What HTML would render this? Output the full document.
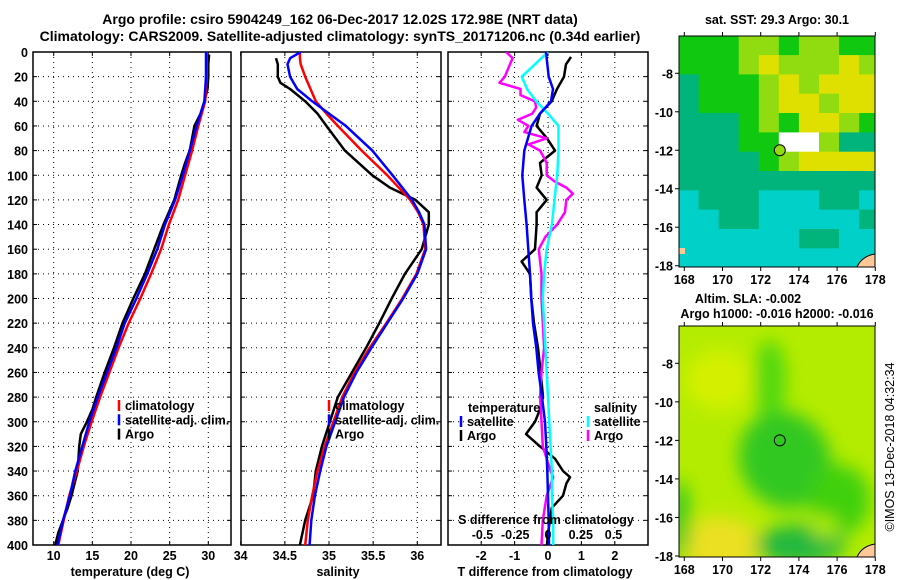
<!DOCTYPE html>
<html><head><meta charset="utf-8"><style>
html,body{margin:0;padding:0;background:#fff;}
svg{display:block;font-family:"Liberation Sans",sans-serif;}
.b{font-weight:bold;font-size:12.5px;fill:#000;}
.t{font-weight:bold;font-size:14px;fill:#000;}
</style></head><body>
<svg id="c" width="900" height="580" viewBox="0 0 900 580" xmlns="http://www.w3.org/2000/svg">
<defs>
<clipPath id="cp1"><rect x="33" y="52" width="198" height="493"/></clipPath>
<clipPath id="cp2"><rect x="241" y="52" width="200" height="493"/></clipPath>
<clipPath id="cp3"><rect x="448" y="52" width="200" height="493"/></clipPath>
<clipPath id="cm1"><rect x="679" y="36" width="196" height="231"/></clipPath>
<clipPath id="cm2"><rect x="679" y="326" width="196" height="231"/></clipPath>
<filter id="bl" x="-20%" y="-20%" width="140%" height="140%"><feGaussianBlur stdDeviation="9"/></filter>
</defs>
<text class="t" x="340" y="24" text-anchor="middle">Argo profile: csiro 5904249_162 06-Dec-2017 12.02S 172.98E (NRT data)</text>
<text class="t" x="340" y="41" text-anchor="middle">Climatology: CARS2009. Satellite-adjusted climatology: synTS_20171206.nc (0.34d earlier)</text>
<g id="g"></g>
</svg>
<script>
// ---- data ----
const depthT = [0,20,40,60,80,100,120,140,160,180,200,220,240,260,280,300,320,340,360,380,400];
const tClim = [29.8,29.8,29.6,28.7,27.9,27.0,26.1,24.9,23.9,22.6,21.2,19.7,18.4,17.2,16.0,14.9,13.9,13.0,12.0,11.3,10.6];
const tSat  = [29.7,29.7,29.5,28.5,27.6,26.7,25.7,24.4,23.4,22.1,20.7,19.2,18.1,16.9,15.7,14.6,13.7,12.8,12.1,11.2,10.5];
const depthTA = [2,10,20,30,40,50,60,70,80,90,100,120,140,160,180,200,220,240,260,280,290,300,310,320,340,360,370,380,390,400];
const tArgo = [30.1,30.0,30.0,29.9,29.5,29.0,28.2,27.9,27.6,27.0,26.5,25.6,24.2,23.0,21.8,20.3,18.9,17.8,16.6,15.5,15.0,14.3,13.5,13.3,13.1,12.3,11.8,11.2,10.6,10.2];
const depthS = [0,5,10,20,30,40,50,60,80,100,120,130,140,160,180,200,220,240,260,280,300,320,340,360,380,400];
const sClim = [34.67,34.67,34.68,34.73,34.79,34.85,34.97,35.10,35.37,35.66,35.92,36.01,36.07,36.09,35.99,35.83,35.65,35.46,35.29,35.15,35.05,34.95,34.87,34.81,34.76,34.73];
const sSat  = [34.68,34.56,34.53,34.56,34.64,34.81,35.00,35.19,35.49,35.72,35.94,36.02,36.08,36.10,36.00,35.84,35.66,35.48,35.31,35.17,35.07,34.97,34.90,34.84,34.80,34.78];
const depthSA = [5,10,20,25,30,40,50,60,80,100,110,120,130,140,160,180,200,220,240,260,280,300,320,340,360,380,400];
const sArgo = [34.40,34.42,34.42,34.45,34.56,34.73,34.87,34.97,35.18,35.49,35.69,35.98,36.13,36.13,36.05,35.86,35.71,35.57,35.42,35.26,35.10,35.01,34.92,34.85,34.82,34.73,34.67];
const depthD = [0,20,30,40,50,60,80,100,120,140,160,180,200,220,240,260,280,300,320,340,360,380,400];
const dtSat = [-0.06,0.02,0.15,0.09,-0.24,-0.49,-0.71,-0.77,-0.71,-0.64,-0.59,-0.54,-0.50,-0.45,-0.35,-0.28,-0.18,-0.09,-0.05,-0.02,0.0,0.02,0.03];
const dsSat = [0.0,-0.20,-0.16,-0.09,0.0,0.08,0.08,0.07,0.05,0.03,-0.01,-0.03,-0.04,-0.03,-0.02,-0.01,0.0,0.01,0.02,0.03,0.03,0.04,0.04];
const depthDA = [4,10,20,30,40,50,60,70,80,90,100,110,120,130,140,160,170,180,200,220,240,260,280,290,300,310,320,330,340,345,350,360,370,380,390,400];
const dtArgo = [0.69,0.54,0.48,0.27,0.11,-0.24,-0.34,-0.03,0.21,-0.24,-0.19,-0.34,-0.04,-0.34,-0.34,-0.39,-0.79,-0.54,-0.50,-0.42,-0.30,-0.22,-0.15,-0.24,-0.39,-0.66,-0.24,0.21,0.45,0.66,0.55,0.45,0.11,0.06,0.0,-0.03];
const depthDSA = [0,5,10,20,25,30,35,40,45,50,55,60,65,70,75,80,90,100,105,110,115,120,130,140,150,160,170,180,200,220,240,260,280,300,320,340,345,360,380,400];
const dsArgo = [-0.32,-0.27,-0.29,-0.33,-0.37,-0.21,-0.21,-0.10,-0.09,-0.12,-0.23,-0.15,-0.18,-0.01,-0.15,-0.06,-0.01,-0.01,0.05,0.14,0.19,0.14,0.13,0.07,-0.02,-0.07,-0.06,-0.05,-0.05,-0.04,-0.03,-0.05,-0.06,-0.05,-0.04,0.02,0.04,-0.01,-0.04,-0.05];
const depthTicks = [0,20,40,60,80,100,120,140,160,180,200,220,240,260,280,300,320,340,360,380,400];
const tTicks = [10,15,20,25,30];
const sTicks = [34,34.5,35,35.5,36];
const dtTicks = [-2,-1,0,1,2];
const dsTicks = [-0.5,-0.25,0,0.25,0.5];
const lonTicks = [168,170,172,174,176,178];
const latTicks = [-8,-10,-12,-14,-16,-18];
const sstRows = ["GGGLLGLLGG","GGGLYLLLYL","TGGGLYLYYY","TGGGLYYLYY","TTTGLGYYLG","TTTGGWWLTT","TTTTGLYYYY","TTTTTTTTTT","CTTTCCCTTC","CCTTCCCCCT","CCCCCCTTCC","CCCCCCCCCC"];
// ---- scales ----
const yD = d => 52 + d*1.2325;
const xT = t => 53.7 + (t-10)*7.73;
const xS = s => 240.7 + (s-34)*88.3;
const xDT = v => 548 + v*33.4;
const xDS = v => 548 + v*131;
const mx1 = lon => 684.3 + (lon-168)*19.1;
const my1 = lat => 73.3 + (-8-lat)*19.24;
const my2 = lat => 363.3 + (-8-lat)*19.27;
const NS='http://www.w3.org/2000/svg';
const G=document.getElementById('g');
function mk(tag,at,parent){const e=document.createElementNS(NS,tag);for(const k in at)e.setAttribute(k,at[k]);(parent||G).appendChild(e);return e;}
function txt(x,y,s,anchor,cls,parent){const e=mk('text',{x:x,y:y,'text-anchor':anchor||'middle',class:cls||'b'},parent);e.textContent=s;return e;}
function poly(xs,ds,xf,color,w,clip){
  const pts=xs.map((v,i)=>xf(v).toFixed(1)+','+yD(ds[i]).toFixed(1)).join(' ');
  return mk('polyline',{points:pts,fill:'none',stroke:color,'stroke-width':w,'stroke-linejoin':'round','clip-path':'url(#'+clip+')'});
}
function frame(x0,x1,vx,name){
  const f=mk('rect',{x:x0,y:52,width:x1-x0,height:493,fill:'none',stroke:'#000','stroke-width':1.5});
  
  
  depthTicks.forEach(d=>{ if(d>0&&d<400){const l=mk('line',{x1:x0,x2:x1,y1:yD(d),y2:yD(d),stroke:'#000','stroke-dasharray':'1,4'});
    
    }
    mk('line',{x1:x0,x2:x0+4,y1:yD(d),y2:yD(d),stroke:'#000'}); mk('line',{x1:x1-4,x2:x1,y1:yD(d),y2:yD(d),stroke:'#000'});});
  vx.forEach(x=>{ if(x>x0+1&&x<x1-1){const l=mk('line',{x1:x,x2:x,y1:52,y2:545,stroke:'#000','stroke-dasharray':'1,4'});
    
    }
    mk('line',{x1:x,x2:x,y1:545,y2:541,stroke:'#000'});mk('line',{x1:x,x2:x,y1:52,y2:56,stroke:'#000'});});
}
// panel 1
frame(33,231,tTicks.map(xT),'temperature-panel');
depthTicks.forEach(d=>{const e=txt(28,yD(d)+5,String(d),'end');});
tTicks.forEach(t=>{const e=txt(xT(t),560,String(t));});
let e=txt(130,576,'temperature (deg C)');
e=poly(tArgo,depthTA,xT,'#000',2.5,'cp1');
e=poly(tClim,depthT,xT,'#f00',2.5,'cp1');
e=poly(tSat,depthT,xT,'#00f',2.5,'cp1');
// panel 2
frame(241,441,sTicks.map(xS),'salinity-panel');
sTicks.forEach(s=>{const e=txt(xS(s),560,String(s));});
e=txt(338,576,'salinity');
e=poly(sArgo,depthSA,xS,'#000',2.5,'cp2');
e=poly(sClim,depthS,xS,'#f00',2.5,'cp2');
e=poly(sSat,depthS,xS,'#00f',2.5,'cp2');
// legends 1,2
function legend(x,items,name){items.forEach((it,i)=>{const y=410+i*14.3;
  mk('line',{x1:x,x2:x,y1:y-10,y2:y+1,stroke:it[1],'stroke-width':2.5});
  const t=txt(x+6,y,it[0],'start');});}
legend(119,[['climatology','#f00'],['satellite-adj. clim.','#00f'],['Argo','#000']],'temperature-legend');
legend(329,[['climatology','#f00'],['satellite-adj. clim.','#00f'],['Argo','#000']],'salinity-legend');
// panel 3
frame(448,648,dtTicks.map(xDT),'difference-panel');
dtTicks.forEach(v=>{const e=txt(xDT(v),560,String(v));});
e=txt(545,576,'T difference from climatology');
e=poly(dtArgo,depthDA,xDT,'#000',2.5,'cp3');
e=poly(dsArgo,depthDSA,xDS,'#f0f',2.5,'cp3');
e=poly(dsSat,depthD,xDS,'#0ff',2.5,'cp3');
e=poly(dtSat,depthD,xDT,'#00f',2.5,'cp3');
e=txt(546,524,'S difference from climatology');
dsTicks.forEach(v=>{const e=txt(xDS(v),539,String(v));});
e=txt(468,412,'temperature','start');
e=txt(594,412,'salinity','start');
[['satellite','#00f',461],['Argo','#000',461],['satellite','#0ff',588],['Argo','#f0f',588]].forEach((it,i)=>{const y=426+(i%2)*14;
  mk('line',{x1:it[2],x2:it[2],y1:y-10,y2:y+1,stroke:it[1],'stroke-width':2.5});
  const t=txt(it[2]+6,y,it[0],'start');});
// maps
const col={G:'#10c810',L:'#90dc10',Y:'#e0e000',T:'#00b47c',C:'#00d0c8',W:'#ffffff'};
const m1=mk('g',{'clip-path':'url(#cm1)'});


sstRows.forEach((row,r)=>{for(let c=0;c<row.length;c++){
  const lon=167.7+c*1.05, lat=-6.05-r*1.004;
  mk('rect',{x:mx1(lon).toFixed(1),y:my1(lat).toFixed(1),width:20.6,height:19.9,fill:col[row[c]]},m1);}});
mk('path',{d:'M875,254 Q862,256 857,267 L875,267 Z',fill:'#ffc896',stroke:'#000'},m1);
mk('rect',{x:679,y:248,width:6,height:6,fill:'#ffc896'},m1);
e=mk('circle',{cx:mx1(173),cy:my1(-12),r:5.5,fill:'#90dc10',stroke:'#000','stroke-width':1});
const m2=mk('g',{'clip-path':'url(#cm2)'});


mk('rect',{x:679,y:326,width:196,height:231,fill:'#b4ec00'},m2);
const bf=mk('g',{filter:'url(#bl)'},m2);
mk('ellipse',{cx:720,cy:380,rx:35,ry:30,fill:'#d4f000'},bf);
mk('ellipse',{cx:720,cy:545,rx:40,ry:28,fill:'#ece020'},bf);
mk('ellipse',{cx:770,cy:380,rx:16,ry:40,fill:'#50d810'},bf);
mk('ellipse',{cx:785,cy:460,rx:45,ry:50,fill:'#30c820',transform:'rotate(-30 785 460)'},bf);
mk('ellipse',{cx:800,cy:545,rx:45,ry:20,fill:'#20b840'},bf);
mk('ellipse',{cx:840,cy:500,rx:30,ry:35,fill:'#40d010'},bf);
mk('ellipse',{cx:825,cy:527,rx:12,ry:12,fill:'#b4ec00'},bf);
mk('ellipse',{cx:680,cy:520,rx:10,ry:40,fill:'#30c820'},bf);
mk('path',{d:'M875,544 Q862,546 857,557 L875,557 Z',fill:'#ffc896',stroke:'#000'},m2);
e=mk('circle',{cx:mx1(173),cy:my2(-12),r:5.5,fill:'none',stroke:'#000','stroke-width':1});
[[36,267,my1,'sst'],[326,557,my2,'sla']].forEach(m=>{
  mk('rect',{x:679,y:m[0],width:196,height:m[1]-m[0],fill:'none',stroke:'#000','stroke-width':1});
  lonTicks.forEach(l=>{const x=mx1(l);mk('line',{x1:x,x2:x,y1:m[1],y2:m[1]+4,stroke:'#000'});mk('line',{x1:x,x2:x,y1:m[0],y2:m[0]-4,stroke:'#000'});
    const t=txt(x,m[1]+17,String(l));});
  latTicks.forEach(l=>{const y=m[2](l);mk('line',{x1:675,x2:679,y1:y,y2:y,stroke:'#000'});
    const t=txt(673,y+5,String(l),'end');});
});
e=txt(777,24,'sat. SST: 29.3 Argo: 30.1');
e=txt(748,303,'Altim. SLA: -0.002');
e=txt(777,318,'Argo h1000: -0.016 h2000: -0.016');
e=mk('text',{x:0,y:0,'text-anchor':'middle','font-size':'12.5',transform:'translate(894,447) rotate(-90)'});
e.textContent='©IMOS 13-Dec-2018 04:32:34';


</script>
</body></html>
